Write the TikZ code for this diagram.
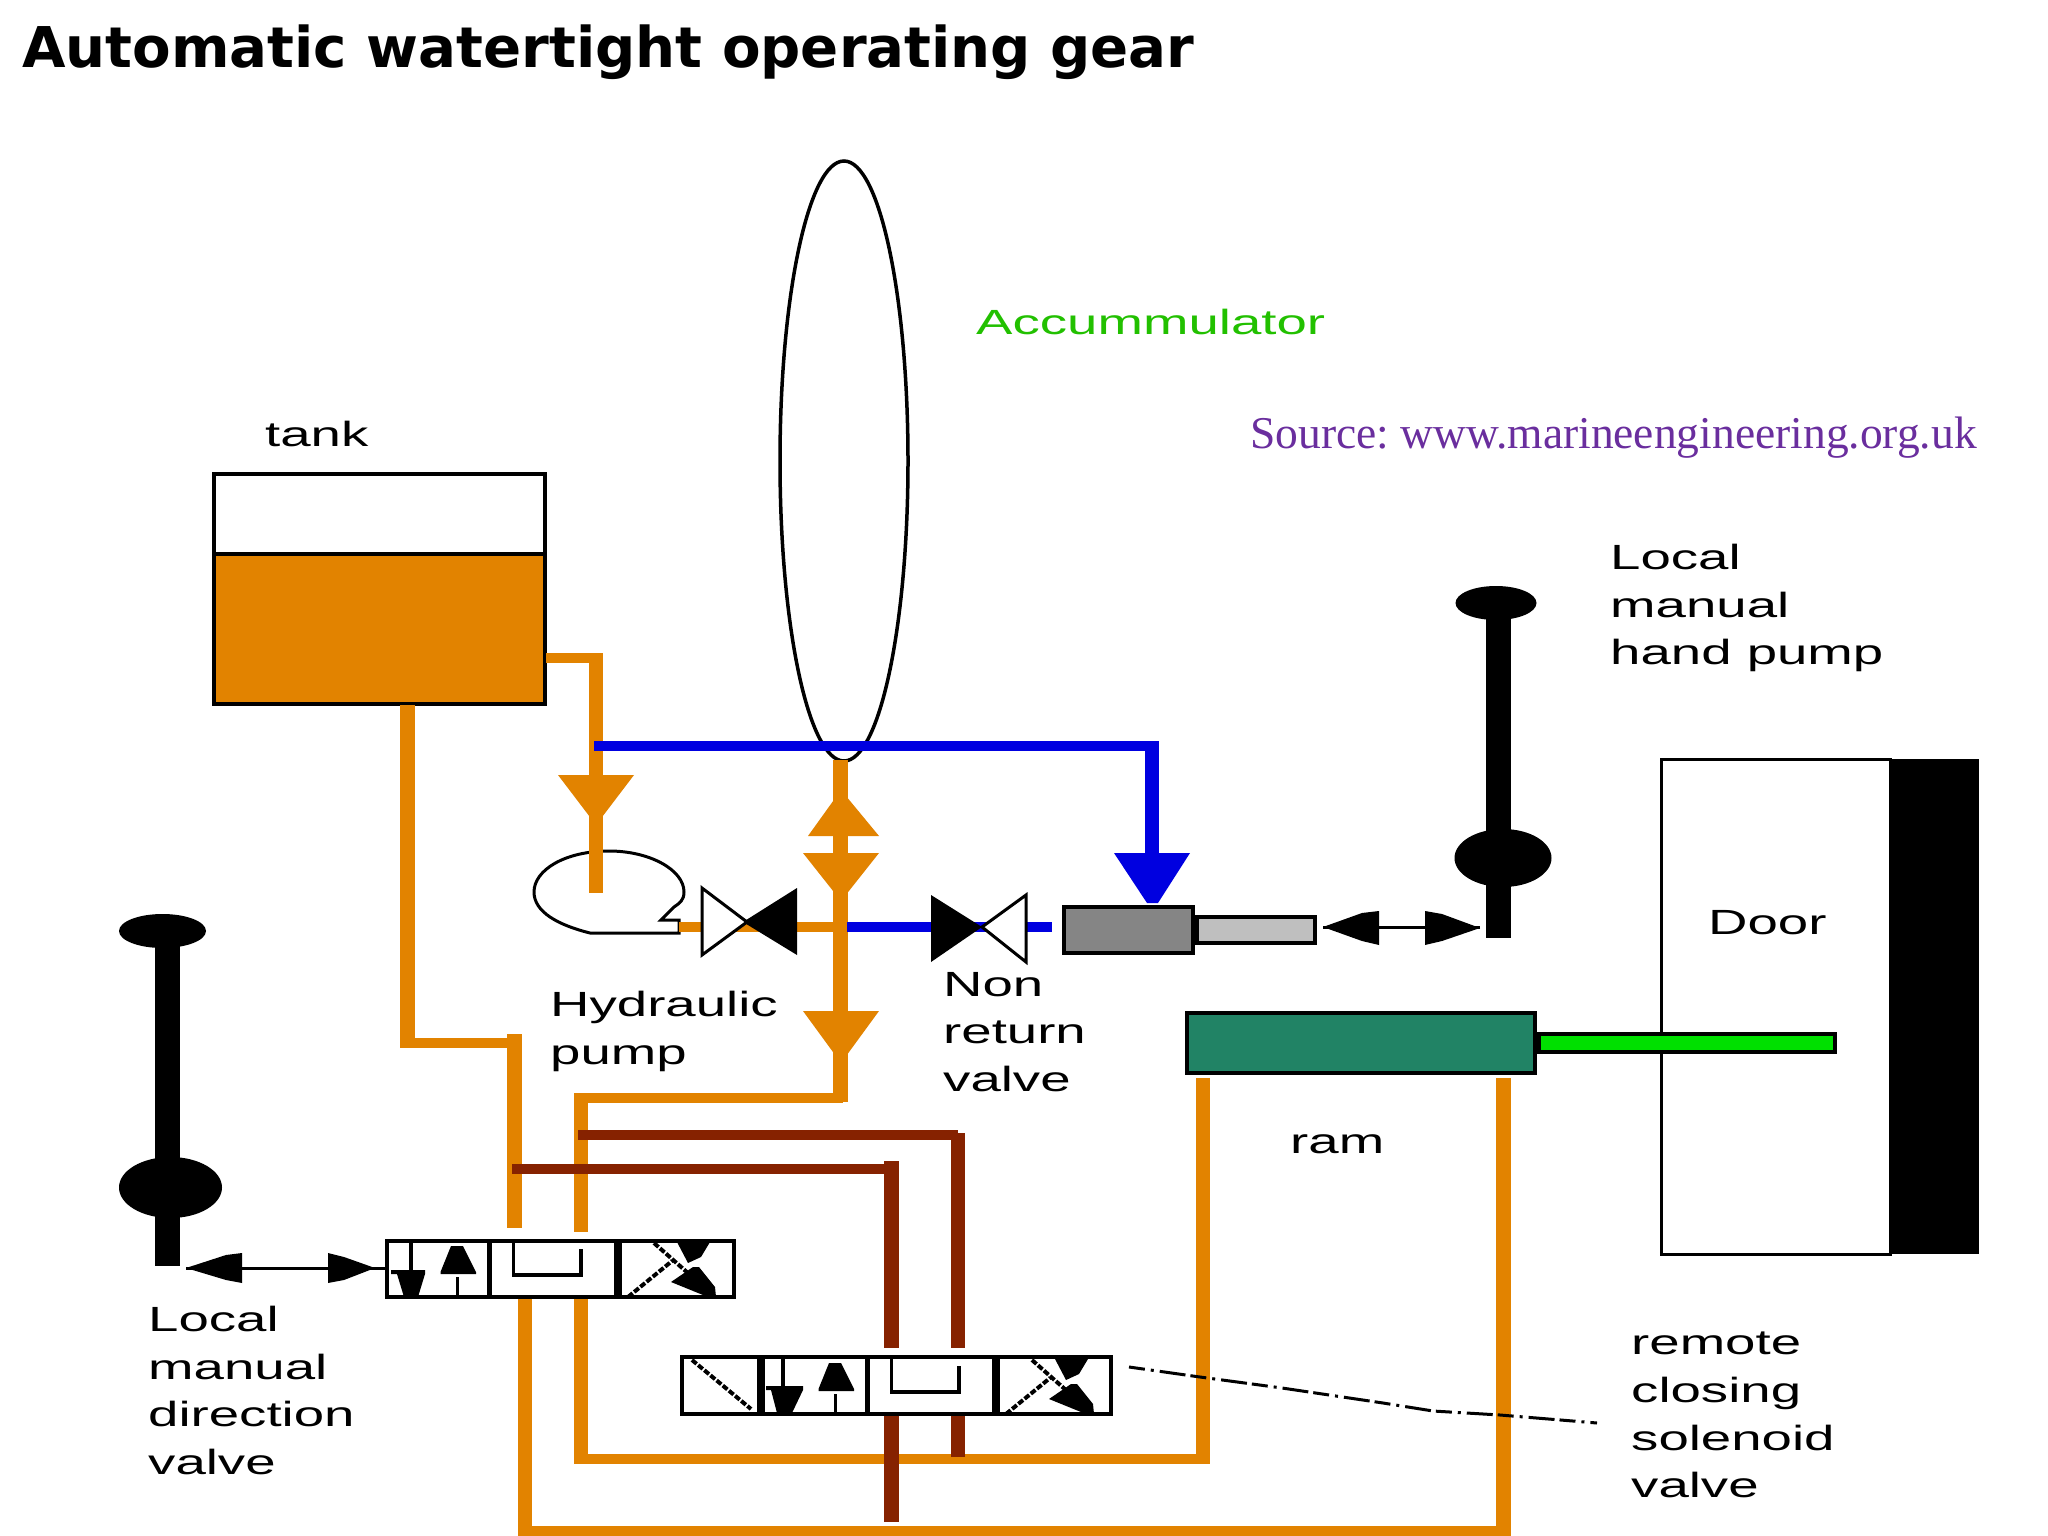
\documentclass[tikz,border=0pt]{standalone}
\usepackage{fontspec}
\usetikzlibrary{shapes.geometric}
\setmainfont{Liberation Sans}
\newfontfamily\pixfont[FakeStretch=1.56]{Liberation Sans}
\newfontfamily\titlefont{DejaVu Sans}
\newfontfamily\serifsrc{Liberation Serif}
\definecolor{oil}{HTML}{E28300}
\definecolor{pilot}{HTML}{862200}
\definecolor{press}{HTML}{0000E0}
\definecolor{ramgreen}{HTML}{218365}
\definecolor{rodgreen}{HTML}{00E000}
\definecolor{srcpurple}{HTML}{6A2E9E}
\definecolor{acctext}{HTML}{22C000}
\tikzset{
  x=1pt,y=-1pt,
  lab/.style={anchor=north west,inner sep=0pt,align=left,font=\pixfont\fontsize{35}{47.6}\selectfont,text=black},
  part/.style={rectangle,draw=black,inner sep=0pt,line width=#1},
  part/.default=3.5pt,
  hp/.style={oil,line width=10pt},
  vp/.style={oil,line width=14.5pt},
  hb/.style={press,line width=10pt},
  vb/.style={press,line width=14.5pt},
  hr/.style={pilot,line width=10pt},
  vr/.style={pilot,line width=14.5pt},
  thin line/.style={line width=3pt,black},
  pics/dirvalve/.style={code={
    \fill[black] (66,7) -- (78,7) -- (91,33) -- (91,35) -- (55.5,35) -- (55.5,33) -- cycle;
    \draw[thin line] (72,38) -- (72,58);
    \draw[black,line width=5pt] (104,2) -- (104,58);
    \draw[black,line width=3.5pt] (128.5,3) -- (128.5,36) -- (196,36) -- (196,10);
    \draw[black,line width=8pt] (233,2) -- (233,58);
    \draw[black,line width=4pt,dash pattern=on 6pt off 2pt] (243,58) -- (287,22);
    \draw[black,line width=4pt,dash pattern=on 6pt off 2pt] (269,4) -- (330,58);
    \fill[black] (292,3) -- (325,3) -- (316,18) -- (303,24) -- cycle;
    \fill[black] (308,28) -- (314,28) -- (330,48) -- (331,58) -- (318,56) -- (286,43) -- cycle;
  }}
}
\begin{document}
\frenchspacing
\begin{tikzpicture}
\useasboundingbox (0,0) rectangle (2048,1536);
\fill[white] (0,0) rectangle (2048,1536);

% title and captions
\node[anchor=base west,inner sep=0pt,font=\titlefont\bfseries\fontsize{56.2}{60}\selectfont] (title) at (22,68) {Automatic watertight operating gear};
\node[anchor=base west,inner sep=0pt,text=acctext,font=\pixfont\fontsize{35}{40}\selectfont] (acclab) at (976,334) {Accummulator};
\node[anchor=base west,inner sep=0pt,text=srcpurple,font=\serifsrc\fontsize{45.5}{50}\selectfont] (src) at (1250,448) {Source: www.marineengineering.org.uk};

% tank
\node[part=4pt,fill=white,minimum width=331pt,minimum height=230pt] (tank) at (379.5,589) {};
\node[part=4pt,fill=oil,minimum width=331pt,minimum height=150pt] (liquid) at (379.5,629) {};
\node[lab] (tanklab) at (265,421) {tank};

% accumulator
\node[ellipse,draw=black,line width=3.5pt,inner sep=0pt,minimum width=128pt,minimum height=600pt] (acc) at (844,461) {};

% pump
\draw[thin line] (679,933) -- (590,933) .. controls (558,925) and (534,912) .. (534,892)
  .. controls (534,870) and (565,851) .. (609,851)
  .. controls (650,851) and (684,870) .. (684,892)
  .. controls (684,900) and (680,903) .. (674,907) -- (661,920) -- (679,920) -- cycle;

% junction coordinates
\coordinate (tkO) at (546,658);
\coordinate (feedTop) at (596,653);
\coordinate (feedEnd) at (596,893);
\coordinate (acO) at (840.5,760);
\coordinate (acD) at (840.5,1102);
\coordinate (pL) at (679,927);
\coordinate (pR) at (835,927);
\coordinate (bL) at (847,927);
\coordinate (bR) at (1052,927);

% oil pipes
\draw[hp] (tkO) -- (603,658);
\draw[vp] (feedTop) -- (feedEnd);
\draw[hp] (pL) -- (pR);
\draw[vp] (acO) -- (acD);
\draw[hp] (574,1097.5) -- (843,1097.5);
\draw[vp] (581,1093) -- (581,1232);
\draw[vp] (407.5,705) -- (407.5,1048);
\draw[hp] (400,1042.5) -- (522,1042.5);
\draw[vp] (514.5,1034) -- (514.5,1228);
\draw[vp] (525,1299) -- (525,1528);
\draw[hp] (518,1531) -- (1511,1531);
\draw[vp] (581,1299) -- (581,1464);
\draw[hp] (574,1459) -- (1210,1459);
\draw[vp] (1203,1078) -- (1203,1464);
\draw[vp] (1503.5,1078) -- (1503.5,1536);

% oil arrowheads
\fill[oil] (558,775) -- (634,775) -- (596,825) -- cycle;
\fill[oil] (808,836) -- (879,836) -- (841,790) -- cycle;
\fill[oil] (803,853) -- (879,853) -- (841,901) -- cycle;
\fill[oil] (803,1011) -- (879,1011) -- (841,1063) -- cycle;

% pressure line
\draw[hb] (bL) -- (bR);
\draw[hb] (594,746) -- (1159,746);
\draw[vb] (1152,741) -- (1152,860);
\fill[press] (1114,853) -- (1190,853) -- (1158,903) -- (1147,903) -- cycle;

% non-return valves
\fill[black] (797,888) -- (797,955) -- (743,922) -- cycle;
\draw[thin line,fill=white] (702,888) -- (702,955) -- (747,922) -- cycle;
\fill[black] (931,895) -- (931,962) -- (982,927) -- cycle;
\draw[thin line,fill=white] (1026,895) -- (1026,962) -- (982,927) -- cycle;

% actuator
\node[part,fill=white!52!black,minimum width=129pt,minimum height=46pt] (cyl) at (1128.5,930) {};
\node[part,fill=white!75!black,minimum width=118pt,minimum height=26pt] (cylrod) at (1256,930) {};

% hand pump (right)
\fill[black] (1485.5,603) rectangle (1511,938);
\node[ellipse,fill=black,inner sep=0pt,minimum width=81pt,minimum height=34pt] (hpT) at (1496,603) {};
\node[ellipse,fill=black,inner sep=0pt,minimum width=97pt,minimum height=58pt] (hpB) at (1503,858) {};
\coordinate (daL) at (1323,927);
\coordinate (daR) at (1480,927);
\draw[thin line] (daL) -- (daR);
\fill[black] (1323,927) -- (1362,913) -- (1379,911) -- (1379,945) -- (1362,941) -- cycle;
\fill[black] (1480,928) -- (1442,914) -- (1425,911) -- (1425,945) -- (1442,941) -- cycle;

% door
\node[part=3pt,fill=white,minimum width=229pt,minimum height=495pt] (door) at (1775.5,1006.5) {};
\node[fill=black,inner sep=0pt,minimum width=89pt,minimum height=495pt] (doorblack) at (1934.5,1006.5) {};

% ram
\node[part=4pt,fill=ramgreen,minimum width=348pt,minimum height=60pt] (ram) at (1361,1043) {};
\node[part=4pt,fill=rodgreen,minimum width=296pt,minimum height=18pt] (rod) at (1687,1042.5) {};

% hand lever (left)
\fill[black] (155,930) rectangle (180,1266);
\node[ellipse,fill=black,inner sep=0pt,minimum width=87pt,minimum height=34pt] (lvT) at (162.5,931) {};
\node[ellipse,fill=black,inner sep=0pt,minimum width=103pt,minimum height=61pt] (lvB) at (170.5,1187.5) {};
\draw[thin line] (186,1268) -- (385,1268);
\fill[black] (186,1268) -- (226,1255) -- (242,1253) -- (242,1283) -- (226,1280) -- cycle;
\fill[black] (375,1268) -- (344,1257) -- (328,1253) -- (328,1283) -- (344,1280) -- cycle;

% pilot lines
\draw[hr] (578,1135) -- (958,1135);
\draw[vr] (958,1133) -- (958,1348);
\draw[hr] (512,1169) -- (891.5,1169);
\draw[vr] (891.5,1161) -- (891.5,1348);
\draw[vr] (891.5,1416) -- (891.5,1522);
\draw[vr] (958,1416) -- (958,1457);

% direction valve 1
\node[part,fill=white,minimum width=347pt,minimum height=56pt] (dv1) at (560.5,1269) {};
\pic[shift={(385,1239)}] {dirvalve};
\draw[black,line width=4pt] (411,1241) -- (411,1275);
\fill[black] (391,1270) -- (425,1270) -- (425,1274) -- (418,1297) -- (404,1297) -- (397,1274) -- (391,1274) -- cycle;

% direction valve 2 (solenoid)
\node[part,fill=white,minimum width=429pt,minimum height=57pt] (dv2) at (896.5,1385.5) {};
\pic[shift={(763,1356)}] {dirvalve};
\draw[black,line width=8pt] (761,1358) -- (761,1414);
\draw[black,line width=4pt,dash pattern=on 6pt off 2pt] (692,1360) -- (751,1409);
\draw[black,line width=4pt] (783,1358) -- (783,1390);
\fill[black] (766,1386) -- (803,1386) -- (803,1390) -- (792,1413) -- (777,1413) -- (771,1390) -- (766,1390) -- cycle;

% solenoid leader
\draw[thin line,dash pattern=on 16pt off 6pt on 3pt off 6pt on 26pt off 5pt]
  (1129,1367) -- (1200,1377) -- (1282,1388) -- (1383,1403) -- (1433,1411) -- (1500,1415) -- (1597,1423);

% labels
\node[lab] (hydlab) at (550,991) {Hydraulic\\pump};
\node[lab] (nrvlab) at (943,972) {Non\\return\\valve};
\node[lab] (hplab) at (1610,544) {Local\\manual\\hand pump};
\node[lab] (doorlab) at (1708,910) {Door};
\node[lab] (ramlab) at (1290,1134) {ram};
\node[lab] (sollab) at (1631,1332) {remote\\closing\\solenoid\\valve};
\node[lab] (dvlab) at (148,1306) {Local\\manual\\direction\\valve};
\end{tikzpicture}
\end{document}
